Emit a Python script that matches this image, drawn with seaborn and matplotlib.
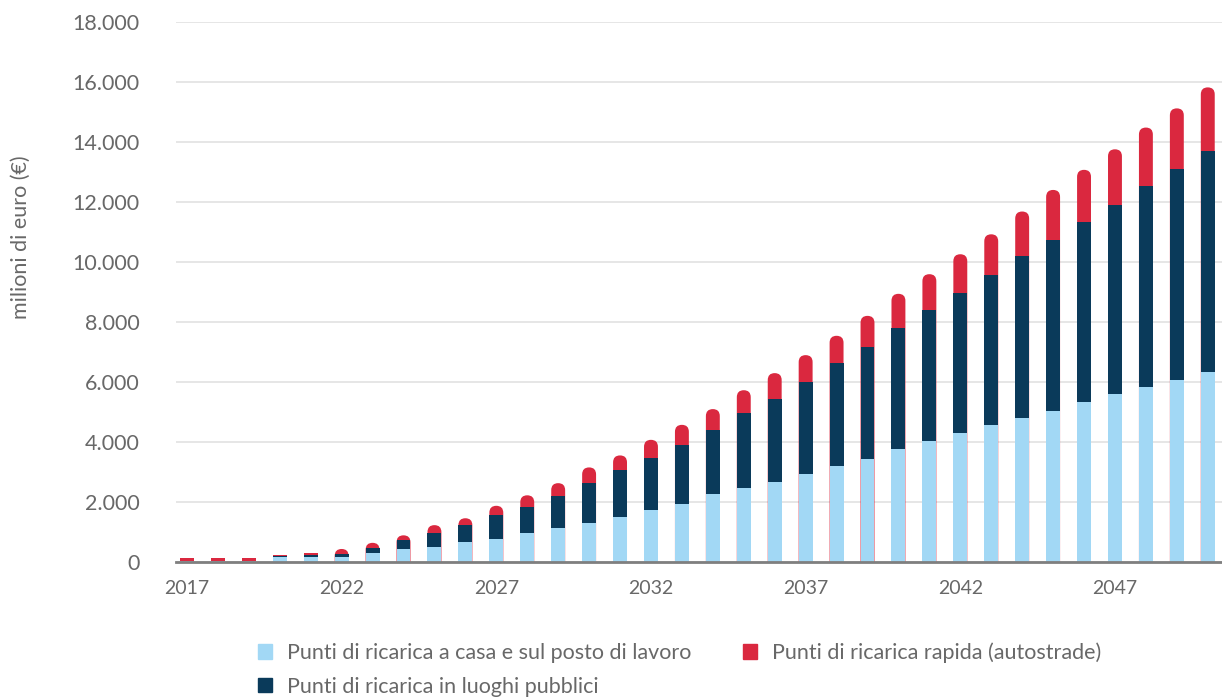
import numpy as np
import pandas as pd
import seaborn as sns
import matplotlib.pyplot as plt
from matplotlib.patches import FancyBboxPatch, Patch
from matplotlib.ticker import FuncFormatter

# data (milioni di euro)
years = list(range(2017, 2051))
casa = [10, 10, 10, 155, 165, 165, 290, 425, 500, 665, 765, 965, 1135, 1300, 1500, 1735,
        1935, 2265, 2470, 2665, 2935, 3200, 3435, 3765, 4035, 4300, 4565, 4800, 5035,
        5335, 5600, 5835, 6065, 6335]
pubblici = [10, 10, 10, 35, 60, 100, 165, 300, 465, 565, 800, 870, 1065, 1335, 1545, 1730,
            1965, 2135, 2490, 2770, 3065, 3435, 3730, 4035, 4365, 4665, 5000, 5400, 5700,
            6000, 6300, 6700, 7035, 7365]
rapida = [110, 110, 110, 35, 65, 160, 175, 155, 255, 220, 300, 380, 420, 510, 500, 600,
          665, 690, 760, 855, 890, 900, 1035, 1135, 1190, 1290, 1355, 1480, 1665, 1735,
          1855, 1945, 2020, 2120]

labels = ["Punti di ricarica a casa e sul posto di lavoro",
          "Punti di ricarica in luoghi pubblici",
          "Punti di ricarica rapida (autostrade)"]
c_light = "#a2d8f5"
c_dark = "#0a3a5a"
c_red = "#da283f"

df = pd.DataFrame({"anno": [str(y) for y in years], "casa": casa,
                   "pubblici": pubblici, "rapida": rapida})
df["top_dark"] = df["casa"] + df["pubblici"]
df["totale"] = df["top_dark"] + df["rapida"]

sns.set_style("white")
plt.rcParams["font.family"] = ["Lato", "DejaVu Sans"]
txt = "#686868"

fig = plt.figure(figsize=(12.22, 6.97), dpi=100)
ax = fig.add_axes([0.144, 0.1941, 0.856, 0.7743])

bw = 0.45
for col, c in [("totale", c_red), ("top_dark", c_dark), ("casa", c_light)]:
    sns.barplot(data=df, x="anno", y=col, color=c, saturation=1, width=bw,
                linewidth=0, edgecolor="none", ax=ax)

ax.set_xlim(-0.356, 33.46)
ax.set_ylim(0, 18000)

# rounded caps on the red bars (circular in pixels)
p0 = ax.transData.transform((0, 0))
p1 = ax.transData.transform((1, 1))
aspect = (p1[0] - p0[0]) / (p1[1] - p0[1])
r = bw / 2
for rect, tot in zip(list(ax.containers[0]), df["totale"]):
    if tot < 300:
        continue
    x, w = rect.get_x(), rect.get_width()
    y0 = -3 * r * aspect
    fb = FancyBboxPatch((x, y0), w, tot - y0,
                        boxstyle=f"round,pad=0,rounding_size={r}",
                        mutation_aspect=aspect, facecolor=c_red, edgecolor="none")
    rect.remove()
    ax.add_patch(fb)
    fb.set_zorder(0.9)

ax.set_yticks(np.arange(0, 18001, 2000))
ax.yaxis.set_major_formatter(FuncFormatter(lambda v, p: f"{int(v):,}".replace(",", ".")))
ax.set_xticks(range(0, 34, 5))
ax.set_xticklabels([str(y) for y in years[::5]])

ax.grid(axis="y", color="#e2e2e2", lw=1.2)
ax.set_axisbelow(True)
for s in ["top", "right", "left"]:
    ax.spines[s].set_visible(False)
ax.spines["bottom"].set_color("#7f7f7f")
ax.spines["bottom"].set_linewidth(2)

ax.tick_params(axis="y", length=0, pad=26, labelsize=15.5, labelcolor=txt)
ax.tick_params(axis="x", length=7, width=1, color="#cccccc", pad=6, labelsize=14,
               labelcolor=txt)
ax.set_xlabel("")
ax.set_ylabel("milioni di euro (€)", fontsize=15.5, color=txt)
ax.yaxis.set_label_coords(-0.139, 0.601)

handles = [Patch(color=c_light), Patch(color=c_dark), Patch(color=c_red)]
fig.legend(handles, labels, ncol=2, loc="upper left", bbox_to_anchor=(0.211, 0.078),
           frameon=False, fontsize=15.5, labelcolor=txt, handlelength=0.65,
           handleheight=0.65, handletextpad=0.7, columnspacing=2.4, labelspacing=0.62,
           borderpad=0, borderaxespad=0)

fig.savefig("out.png", dpi=100)
